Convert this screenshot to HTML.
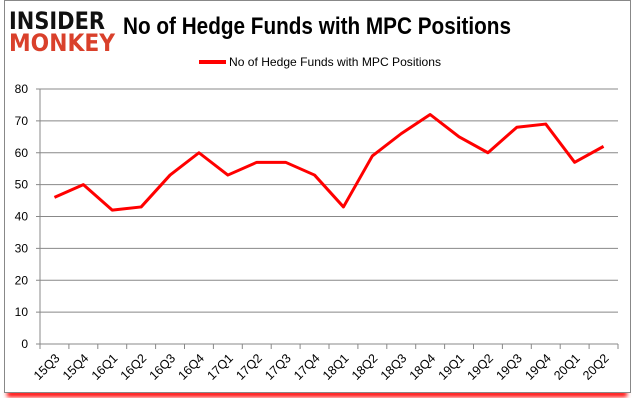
<!DOCTYPE html>
<html><head><meta charset="utf-8"><style>
body{margin:0;background:#fff;width:635px;height:405px;overflow:hidden;font-family:"Liberation Sans",sans-serif}
</style></head><body>
<svg width="635" height="405" xmlns="http://www.w3.org/2000/svg">
<defs><filter id="sh" x="-5%" y="-5%" width="110%" height="120%"><feGaussianBlur stdDeviation="2"/></filter></defs>
<rect x="7" y="391" width="620" height="6" fill="#ff0000" filter="url(#sh)"/>
<rect x="4.5" y="0.5" width="626" height="392" fill="#fff" stroke="#888"/>
<g>
<text x="9" y="29" font-family="'DejaVu Sans',sans-serif" font-weight="bold" font-size="24" fill="#111" textLength="96" lengthAdjust="spacingAndGlyphs">INSIDER</text>
<text x="9" y="51" font-family="'DejaVu Sans',sans-serif" font-weight="bold" font-size="24" fill="#d9402b" textLength="106" lengthAdjust="spacingAndGlyphs">MONKEY</text>
</g>
<text x="123" y="34" font-size="24" font-weight="bold" fill="#000" textLength="388" lengthAdjust="spacingAndGlyphs">No of Hedge Funds with MPC Positions</text>
<line x1="199" y1="62" x2="226" y2="62" stroke="#f00" stroke-width="4"/>
<text x="229" y="66" font-size="12" fill="#000" textLength="212" lengthAdjust="spacingAndGlyphs">No of Hedge Funds with MPC Positions</text>
<g id="grid"></g><g id="axes"></g><g id="series"></g>
</svg>
<script>
const categories=["15Q3","15Q4","16Q1","16Q2","16Q3","16Q4","17Q1","17Q2","17Q3","17Q4","18Q1","18Q2","18Q3","18Q4","19Q1","19Q2","19Q3","19Q4","20Q1","20Q2"];
const values=[46,50,42,43,53,60,53,57,57,53,43,59,66,72,65,60,68,69,57,62];
const yTicks=[0,10,20,30,40,50,60,70,80];
const NS="http://www.w3.org/2000/svg";
const x0=40,x1=618,y0=344,y1=89,yMax=80;
const bw=(x1-x0)/categories.length;
const xs=i=>x0+bw*(i+0.5);
const ys=v=>y0-(v/yMax)*(y0-y1);
function mk(t,a,p){const e=document.createElementNS(NS,t);for(const k in a)e.setAttribute(k,a[k]);p.appendChild(e);return e;}
const grid=document.getElementById('grid'),axes=document.getElementById('axes'),ser=document.getElementById('series');
yTicks.forEach(v=>{
 const l=mk('line',{x1:x0-4,x2:x1,y1:ys(v),y2:ys(v),stroke:'#888','stroke-width':1},grid);
 
 
 const t=mk('text',{x:28,y:ys(v)+4,'font-size':12,'text-anchor':'end',fill:'#000'},axes);
 t.textContent=v;
 
 
});
const ya=mk('line',{x1:x0,x2:x0,y1:y1,y2:y0,stroke:'#888'},axes);


for(let i=0;i<=categories.length;i++){
 const tk=mk('line',{x1:x0+bw*i,x2:x0+bw*i,y1:y0,y2:y0+5,stroke:'#888'},axes);
 
 
}
categories.forEach((c,i)=>{
 const x=xs(i)+6,y=y0+15;
 const t=mk('text',{x:x,y:y,'font-size':12.5,'text-anchor':'end',fill:'#000',transform:`rotate(-45 ${x} ${y})`},axes);
 t.textContent=c;
 
 
});
const pl=mk('polyline',{points:values.map((v,i)=>xs(i)+','+ys(v)).join(' '),fill:'none',stroke:'#f00','stroke-width':3,'stroke-linejoin':'round'},ser);


</script>
</body></html>
